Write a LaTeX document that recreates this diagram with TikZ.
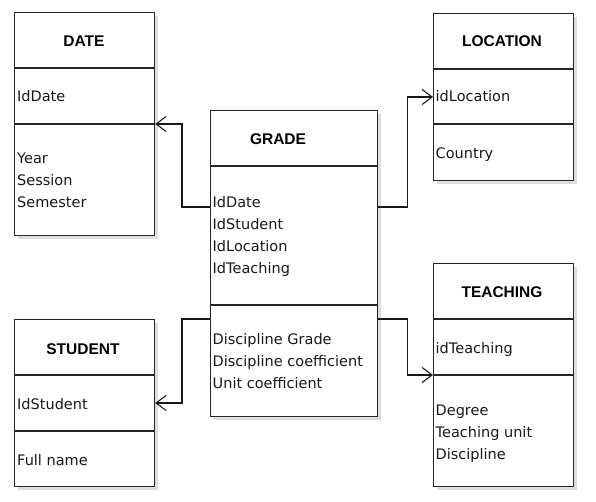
\documentclass[tikz,border=0pt]{standalone}
\usepackage{fontspec}
\setmainfont{DejaVu Sans}
\newfontfamily\titlefont{Liberation Sans}
\usetikzlibrary{arrows.meta,shadows}
\begin{document}
\begin{tikzpicture}[x=1pt,y=-1pt,
  tbl/.style={draw=black!85, line width=1.2pt, fill=white, inner sep=0pt, anchor=north west,
    drop shadow={shadow xshift=3pt, shadow yshift=-3pt, fill=black!13, opacity=1}},
  divider/.style={draw=black!85, line width=1.2pt},
  ttl/.style={anchor=base, inner sep=0pt, font=\titlefont\bfseries\fontsize{15.5}{18}\selectfont, text=black},
  attr/.style={anchor=base west, inner sep=0pt, font=\fontsize{14.5}{22}\selectfont, text=black!90},
  conn/.style={draw=black!90, line width=1.1pt, -{Straight Barb[length=10pt,width=15pt,line width=1.1pt]}}]
\useasboundingbox (0,0) rectangle (596,502);
\fill[white] (0,0) rectangle (596,502);

% tables
\node[tbl, minimum width=140pt, minimum height=223pt] (date) at (14,12) {};
\node[tbl, minimum width=167pt, minimum height=306pt] (grade) at (210,110) {};
\node[tbl, minimum width=140pt, minimum height=167pt] (location) at (433,13) {};
\node[tbl, minimum width=140pt, minimum height=223pt] (teaching) at (433,263) {};
\node[tbl, minimum width=140pt, minimum height=167pt] (student) at (14,319) {};

% dividers
\draw[divider] (date.west |- 0,68) -- (date.east |- 0,68);
\draw[divider] (date.west |- 0,124) -- (date.east |- 0,124);
\draw[divider] (grade.west |- 0,166) -- (grade.east |- 0,166);
\draw[divider] (grade.west |- 0,305) -- (grade.east |- 0,305);
\draw[divider] (location.west |- 0,69) -- (location.east |- 0,69);
\draw[divider] (location.west |- 0,124) -- (location.east |- 0,124);
\draw[divider] (teaching.west |- 0,319) -- (teaching.east |- 0,319);
\draw[divider] (teaching.west |- 0,375) -- (teaching.east |- 0,375);
\draw[divider] (student.west |- 0,375) -- (student.east |- 0,375);
\draw[divider] (student.west |- 0,431) -- (student.east |- 0,431);

% titles
\node[ttl] (dateT) at (84,46.7) {DATE};
\node[ttl] (gradeT) at (278,145) {GRADE};
\node[ttl] (locationT) at (502,46.7) {LOCATION};
\node[ttl] (teachingT) at (502,297.3) {TEACHING};
\node[ttl] (studentT) at (83,354) {STUDENT};

% attributes
\node[attr] (dateK) at (17,101.7) {IdDate};
\foreach \t [count=\i] in {Year,Session,Semester}
  \node[attr] (dateA\i) at (17,142+22*\i) {\t};
\foreach \t [count=\i] in {IdDate,IdStudent,IdLocation,IdTeaching}
  \node[attr] (gradeK\i) at (212.5,185.7+22*\i) {\t};
\foreach \t [count=\i] in {Discipline Grade,Discipline coefficient,Unit coefficient}
  \node[attr] (gradeA\i) at (212.5,322.3+22*\i) {\t};
\node[attr] (locationK) at (435.5,101.7) {idLocation};
\node[attr] (locationA) at (435.5,158.3) {Country};
\node[attr] (teachingK) at (435.5,353.3) {idTeaching};
\foreach \t [count=\i] in {Degree,Teaching unit,Discipline}
  \node[attr] (teachingA\i) at (435.5,393+22*\i) {\t};
\node[attr] (studentK) at (17,409.3) {IdStudent};
\node[attr] (studentA) at (17,465) {Full name};

% connectors
\draw[conn] (grade.west |- 0,207) -- ++(-28,0) |- (date.east |- 0,124);
\draw[conn] (grade.east |- 0,207) -- ++(29,0) |- (location.west |- 0,97);
\draw[conn] (grade.east |- 0,319) -- ++(29,0) |- (teaching.west |- 0,375);
\draw[conn] (grade.west |- 0,319) -- ++(-28,0) |- (student.east |- 0,403);
\end{tikzpicture}
\end{document}
